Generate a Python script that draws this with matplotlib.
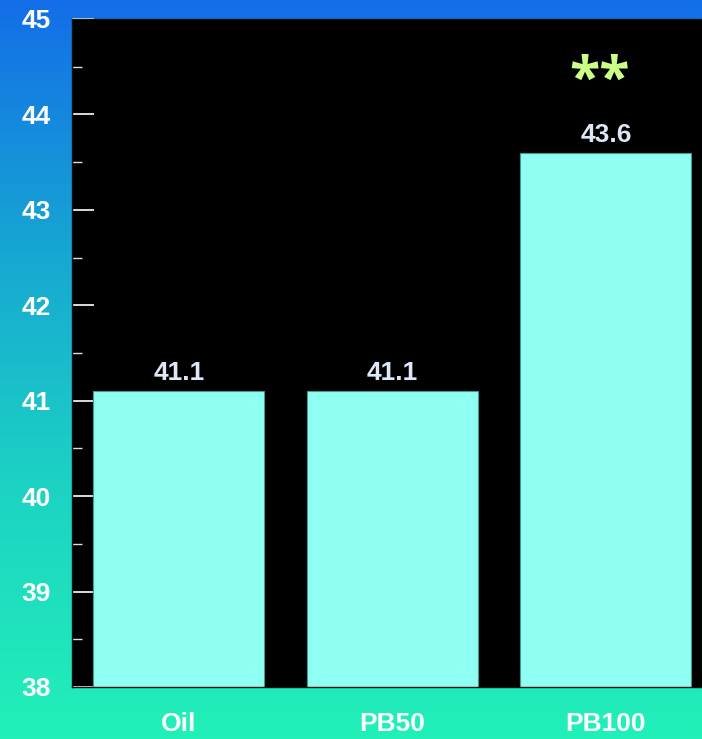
import numpy as np
import matplotlib
matplotlib.use("Agg")
import matplotlib.pyplot as plt
from matplotlib.colors import LinearSegmentedColormap
from matplotlib.ticker import MultipleLocator

plt.rcParams["font.family"] = ["Liberation Sans", "DejaVu Sans"]

categories = ["Oil", "PB50", "PB100"]
values = [41.1, 41.1, 43.6]
significance = ["", "", "**"]
y_ticks = [38, 39, 40, 41, 42, 43, 44, 45]

fig = plt.figure(figsize=(7.02, 7.39), dpi=100)

# vertical gradient background
bg = fig.add_axes([0, 0, 1, 1], zorder=0)
grad_cmap = LinearSegmentedColormap.from_list(
    "bg", [(0.0, "#22f0b8"), (0.35, "#1cd2c4"), (0.65, "#17a8d2"), (1.0, "#136ee8")])
grad = np.linspace(0, 1, 256).reshape(-1, 1)
bg.imshow(grad, cmap=grad_cmap, aspect="auto", origin="lower", extent=[0, 1, 0, 1])
bg.set_axis_off()

left, right = 72 / 702, 702 / 702
bottom, top = 1 - 687 / 739, 1 - 19 / 739
ax = fig.add_axes([left, bottom, right - left, top - bottom], zorder=1)
ax.set_facecolor("black")

x = np.arange(len(categories))
bars = ax.bar(x, values, width=0.8, bottom=0, color="#8ffff3",
              edgecolor="#3f9a94", linewidth=0.8, zorder=2)

ax.set_ylim(38, 45)
ax.set_xlim(-0.5, 2.45)

for xi, v, s in zip(x, values, significance):
    ax.text(xi, v + 0.06, f"{v:.1f}", ha="center", va="bottom",
            color="#dce8f6", fontsize=19, fontweight="bold", zorder=3)
    if s:
        ax.text(xi - 0.03, v + 0.75, s, ha="center", va="center",
                color="#ccff88", fontsize=40, fontweight="bold",
                family=["Open Sans", "DejaVu Sans"], zorder=3)

ax.set_yticks(y_ticks)
ax.set_yticklabels([str(t) for t in y_ticks])
ax.yaxis.set_minor_locator(MultipleLocator(0.5))
ax.tick_params(axis="y", which="major", direction="in", length=16, width=1.2,
               color="white", labelcolor="white", labelsize=19, pad=15)
ax.tick_params(axis="y", which="minor", direction="in", length=7, width=1,
               color="#dddddd")
for lab in ax.get_yticklabels():
    lab.set_fontweight("bold")

ax.set_xticks(x)
ax.set_xticklabels(categories)
ax.tick_params(axis="x", which="both", length=0, labelcolor="white",
               labelsize=19, pad=18)
for lab in ax.get_xticklabels():
    lab.set_fontweight("bold")

for sp in ax.spines.values():
    sp.set_color("#111111")
    sp.set_linewidth(1)

fig.savefig("out.png", dpi=100)
